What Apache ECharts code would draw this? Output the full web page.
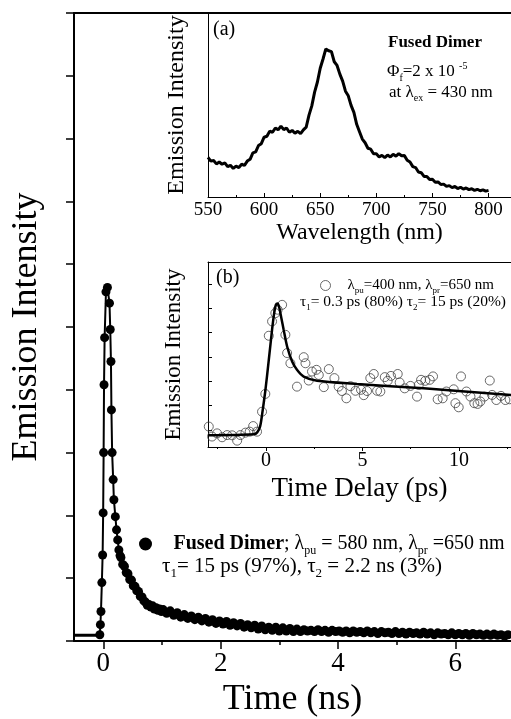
<!DOCTYPE html>
<html>
<head>
<meta charset="utf-8">
<script src="https://cdn.jsdelivr.net/npm/echarts@6.0.0/dist/echarts.min.js"></script>
<style>
  html, body { margin: 0; padding: 0; background: #fff; }
  #chart { width: 511px; height: 719px; }
</style>
</head>
<body>
<div id="chart"></div>
<script>
// main panel: emission decay (time in ns, intensity in arbitrary units)
const baseTime = [-0.5, -0.055]
const baseValue = [0.09, 0.09]

const decayTime = [
  -0.06, -0.05, -0.04, -0.025, -0.012, -0.003, 0.005, 0.012, 0.022, 0.045, 0.07,
  0.105, 0.118, 0.13, 0.138, 0.15, 0.168, 0.18, 0.205, 0.225, 0.245, 0.265, 0.285,
  0.30, 0.33, 0.36, 0.39, 0.42, 0.45, 0.48, 0.51, 0.54, 0.57, 0.60, 0.63, 0.66, 0.69,
  0.72, 0.75, 0.78, 0.81, 0.84, 0.87, 0.90, 0.93, 0.96, 0.99, 1.02,
  1.08, 1.14, 1.20, 1.26, 1.32, 1.38, 1.44, 1.50, 1.56, 1.62, 1.68, 1.74, 1.80, 1.86,
  1.92, 1.98, 2.04, 2.10, 2.16, 2.22, 2.28, 2.34, 2.40, 2.46, 2.52, 2.58, 2.64, 2.70,
  2.76, 2.82, 2.88, 2.94, 3.00, 3.06, 3.12, 3.18, 3.24, 3.30, 3.36, 3.42, 3.48, 3.54,
  3.60, 3.66, 3.72, 3.78, 3.84, 3.90, 3.96, 4.02, 4.08, 4.14, 4.20, 4.26, 4.32, 4.38,
  4.44, 4.50, 4.56, 4.62, 4.68, 4.74, 4.80, 4.86, 4.92, 4.98, 5.04, 5.10, 5.16, 5.22,
  5.28, 5.34, 5.40, 5.46, 5.52, 5.58, 5.64, 5.70, 5.76, 5.82, 5.88, 5.94, 6.00, 6.06,
  6.12, 6.18, 6.24, 6.30, 6.36, 6.42, 6.48, 6.54, 6.60, 6.66, 6.72, 6.78, 6.84, 6.90
]
const decayValue = [
  0.10, 0.26, 0.47, 0.93, 1.37, 2.04, 3.00, 4.08, 4.83, 5.56, 5.63,
  5.38, 4.96, 4.45, 3.68, 3.00, 2.57, 2.25, 1.98, 1.77, 1.61, 1.45, 1.36,
  1.33, 1.22, 1.19, 1.09, 1.07, 0.98, 0.97, 0.88, 0.87, 0.80, 0.79, 0.71, 0.70, 0.64,
  0.62, 0.57, 0.58, 0.54, 0.56, 0.51, 0.53, 0.49, 0.51, 0.47, 0.50,
  0.44, 0.48, 0.41, 0.45, 0.38, 0.42, 0.36, 0.40, 0.34, 0.38, 0.32, 0.36, 0.30, 0.34,
  0.28, 0.32, 0.27, 0.31, 0.25, 0.29, 0.24, 0.28, 0.22, 0.26, 0.21, 0.25, 0.19, 0.24,
  0.18, 0.22, 0.17, 0.22, 0.16, 0.21, 0.16, 0.20, 0.15, 0.19, 0.15, 0.18, 0.16, 0.17,
  0.15, 0.18, 0.15, 0.17, 0.14, 0.17, 0.15, 0.16, 0.14, 0.16, 0.13, 0.16, 0.14, 0.15,
  0.13, 0.16, 0.13, 0.15, 0.12, 0.15, 0.13, 0.14, 0.12, 0.15, 0.12, 0.14, 0.11, 0.14,
  0.12, 0.13, 0.11, 0.14, 0.11, 0.13, 0.10, 0.13, 0.11, 0.12, 0.10, 0.13, 0.10, 0.12,
  0.10, 0.12, 0.09, 0.12, 0.10, 0.11, 0.09, 0.11, 0.09, 0.11, 0.09, 0.10, 0.08, 0.10
]
const mainLabels = [0, 2, 4, 6]
const mainMinor = [1, 3, 5]

// inset (a): steady-state emission spectrum
const specWave = [
  550, 552.5, 555, 557.5, 560, 562.5, 565, 567.5, 570, 572.5, 575, 577.5, 580, 582.5,
  585, 587.5, 590, 592.5, 595, 597.5, 600, 602.5, 605, 607.5, 610, 612.5, 615, 617.5,
  620, 622.5, 625, 627.5, 630, 632.5, 635, 637.5, 640, 642.5, 645, 647.5, 650, 652.5,
  655, 657.5, 660, 662.5, 665, 667.5, 670, 672.5, 675, 677.5, 680, 682.5, 685, 687.5,
  690, 692.5, 695, 697.5, 700, 702.5, 705, 707.5, 710, 712.5, 715, 717.5, 720, 722.5,
  725, 727.5, 730, 732.5, 735, 737.5, 740, 742.5, 745, 747.5, 750, 752.5, 755, 757.5,
  760, 762.5, 765, 767.5, 770, 772.5, 775, 777.5, 780, 782.5, 785, 787.5, 790, 792.5,
  795, 797.5, 800
]
const specValue = [
  0.215, 0.195, 0.198, 0.18, 0.19, 0.178, 0.185, 0.165, 0.172, 0.155, 0.168, 0.16, 0.178, 0.172,
  0.195, 0.205, 0.24, 0.245, 0.28, 0.29, 0.325, 0.33, 0.358, 0.352, 0.375, 0.365, 0.385, 0.366,
  0.375, 0.352, 0.362, 0.346, 0.357, 0.344, 0.365, 0.38, 0.445, 0.495, 0.57, 0.625, 0.70, 0.75,
  0.805, 0.795, 0.79, 0.735, 0.715, 0.668, 0.63, 0.575, 0.55, 0.498, 0.46, 0.395, 0.355, 0.315,
  0.295, 0.265, 0.26, 0.235, 0.235, 0.218, 0.226, 0.214, 0.228, 0.218, 0.232, 0.222, 0.236, 0.224,
  0.225, 0.2, 0.19, 0.165, 0.16, 0.136, 0.132, 0.112, 0.112, 0.095, 0.096, 0.08, 0.082, 0.068,
  0.07, 0.058, 0.062, 0.051, 0.057, 0.046, 0.053, 0.043, 0.049, 0.04, 0.045, 0.036, 0.042, 0.034,
  0.039, 0.032, 0.036
]

// inset (b): pump-probe trace (ps) and its fit
const probeTime = [
  -2.96, -2.79, -2.53, -2.27, -2.01, -1.75, -1.49, -1.32, -1.06, -0.84, -0.66, -0.46,
  -0.20, -0.03, 0.15, 0.32, 0.49, 0.61, 0.84, 1.01, 1.10, 1.27, 1.61, 1.96, 2.05, 2.22,
  2.39, 2.62, 2.74, 3.00, 3.26, 3.55, 3.77, 3.94, 4.17, 4.38, 4.64, 4.93, 5.07, 5.24,
  5.41, 5.59, 5.76, 5.93, 6.16, 6.31, 6.48, 6.83, 6.93, 7.19, 7.49, 7.83, 7.92, 8.04,
  8.26, 8.49, 8.66, 8.90, 9.16, 9.35, 9.73, 9.82, 9.99, 10.11, 10.39, 10.60, 10.80,
  10.97, 11.11, 11.32, 11.60, 11.72, 11.94, 12.18, 12.41, 12.63
]
const probeValue = [
  0.14, -0.27, -0.14, -0.30, -0.21, -0.22, -0.44, -0.21, -0.11, -0.07, 0.16, -0.07,
  0.75, 1.48, 3.87, 4.46, 4.80, 4.94, 5.14, 3.91, 3.16, 2.74, 1.78, 2.99, 2.74, 2.03,
  2.40, 2.47, 2.26, 1.76, 2.50, 2.13, 1.78, 1.60, 1.30, 1.80, 1.61, 1.65, 1.43, 1.60,
  2.13, 2.30, 1.61, 1.58, 2.17, 2.02, 2.22, 2.30, 1.95, 1.71, 1.81, 1.37, 1.85, 2.06,
  2.02, 2.06, 2.20, 1.26, 1.30, 1.58, 1.67, 1.10, 0.93, 2.20, 1.58, 1.37, 1.10,
  1.07, 1.17, 1.37, 2.03, 1.44, 1.23, 1.40, 1.23, 1.26
]
const fitTime = [-3.0, -0.63, -0.45, -0.3, -0.2, -0.03, 0.15, 0.32, 0.42, 0.52, 0.61, 0.7, 0.8, 0.92, 1.1, 1.36, 1.61, 1.96, 2.65, 4.72, 8.17, 12.7]
const fitValue = [-0.22, -0.18, -0.1, 0.15, 0.62, 1.61, 2.88, 4.12, 4.75, 5.15, 5.2, 5.0, 4.6, 4.12, 3.43, 2.81, 2.47, 2.19, 2.02, 1.89, 1.71, 1.44]
const probeLabels = [0, 5, 10]
const probeMinor = [-2.5, 2.5, 7.5, 12.5]
const probeYTicks = [0, 1, 2, 3, 4, 5, 6]

const serif = "'Liberation Serif', 'Times New Roman', 'DejaVu Serif', serif"

function zip(xs, ys) {
  return xs.map((x, i) => [x, ys[i]])
}

function richSet(size) {
  return {
    n: { fontSize: size, fontFamily: serif, color: '#000', fill: '#000' },
    b: { fontSize: size, fontFamily: serif, fontWeight: 'bold', color: '#000', fill: '#000' },
    s: { fontSize: Math.round(size * 0.6), fontFamily: serif, color: '#000', fill: '#000', padding: [Math.round(size * 0.7), 0, 0, 0] },
    sup: { fontSize: Math.round(size * 0.6), fontFamily: serif, color: '#000', fill: '#000', padding: [0, 0, Math.round(size * 0.7), 0] }
  }
}

function label(text, left, top, size) {
  return {
    type: 'text',
    left: left,
    top: top,
    z: 100,
    style: { text: text, rich: richSet(size), fontSize: size, fontFamily: serif, fill: '#000' }
  }
}

const chart = echarts.init(document.getElementById('chart'), null, { renderer: 'canvas' })

const axisText = { color: '#000', fontFamily: serif }
const line1 = { onZero: false, lineStyle: { color: '#000', width: 1 } }
const line2 = { onZero: false, lineStyle: { color: '#000', width: 2 } }
const noLine = { show: false, onZero: false }

const option = {
  animation: false,
  backgroundColor: '#fff',
  grid: [
    { left: 74, right: 0, top: 13, bottom: 78, outerBoundsMode: 'none' },
    { left: 208, right: 0, top: 13, bottom: 522, outerBoundsMode: 'none' },
    { left: 208, right: 0, top: 262, bottom: 272, outerBoundsMode: 'none' }
  ],
  xAxis: [
    {
      gridIndex: 0, type: 'value', min: -0.5, max: 6.95, position: 'bottom',
      axisLine: line2,
      axisTick: { customValues: mainLabels, length: 8, lineStyle: { color: '#000', width: 1.5 } },
      axisLabel: Object.assign({ customValues: mainLabels, fontSize: 27, margin: 9 }, axisText),
      splitLine: { show: false },
      name: 'Time (ns)', nameLocation: 'middle', nameGap: 40,
      nameTextStyle: Object.assign({ fontSize: 36 }, axisText)
    },
    {
      gridIndex: 0, type: 'value', min: -0.5, max: 6.95, position: 'bottom',
      axisLine: noLine,
      axisTick: { customValues: mainMinor, length: 4, lineStyle: { color: '#000', width: 1.5 } },
      axisLabel: { show: false },
      splitLine: { show: false }
    },
    {
      gridIndex: 0, type: 'value', min: -0.5, max: 6.95, position: 'top',
      axisLine: line2,
      axisTick: { show: false }, axisLabel: { show: false }, splitLine: { show: false }
    },
    {
      gridIndex: 1, type: 'value', min: 550, max: 820, interval: 50, position: 'bottom',
      axisLine: line1,
      axisTick: { inside: true, length: 4, lineStyle: { color: '#000' } },
      minorTick: { show: true, splitNumber: 2, length: 2, lineStyle: { color: '#000' } },
      axisLabel: Object.assign({ fontSize: 19, margin: 4 }, axisText),
      splitLine: { show: false },
      name: 'Wavelength (nm)', nameLocation: 'middle', nameGap: 18,
      nameTextStyle: Object.assign({ fontSize: 24 }, axisText)
    },
    {
      gridIndex: 2, type: 'value', min: -3, max: 12.7, position: 'bottom',
      axisLine: line1,
      axisTick: { customValues: probeLabels, length: 4, lineStyle: { color: '#000' } },
      axisLabel: Object.assign({ customValues: probeLabels, fontSize: 20, margin: 4 }, axisText),
      splitLine: { show: false },
      name: 'Time Delay (ps)', nameLocation: 'middle', nameGap: 28,
      nameTextStyle: Object.assign({ fontSize: 27 }, axisText)
    },
    {
      gridIndex: 2, type: 'value', min: -3, max: 12.7, position: 'bottom',
      axisLine: noLine,
      axisTick: { customValues: probeMinor, length: 2, lineStyle: { color: '#000' } },
      axisLabel: { show: false }, splitLine: { show: false }
    },
    {
      gridIndex: 2, type: 'value', min: -3, max: 12.7, position: 'top',
      axisLine: line1,
      axisTick: { show: false }, axisLabel: { show: false }, splitLine: { show: false }
    }
  ],
  yAxis: [
    {
      gridIndex: 0, type: 'value', min: 0, max: 10, interval: 1, position: 'left',
      axisLine: line2,
      axisTick: { length: 8, lineStyle: { color: '#000', width: 1.5 } },
      axisLabel: { show: false },
      splitLine: { show: false },
      name: 'Emission Intensity', nameLocation: 'middle', nameGap: 29,
      nameTextStyle: Object.assign({ fontSize: 36 }, axisText)
    },
    {
      gridIndex: 1, type: 'value', min: 0, max: 1, position: 'left',
      axisLine: Object.assign({ show: true }, line1),
      axisTick: { show: false }, axisLabel: { show: false }, splitLine: { show: false },
      name: 'Emission Intensity', nameLocation: 'middle', nameGap: 19,
      nameTextStyle: Object.assign({ fontSize: 24 }, axisText)
    },
    {
      gridIndex: 2, type: 'value', min: -0.7, max: 6.9, position: 'left',
      axisLine: Object.assign({ show: true }, line1),
      axisTick: { inside: true, customValues: probeYTicks, length: 4, lineStyle: { color: '#000' } },
      axisLabel: { show: false }, splitLine: { show: false },
      name: 'Emission Intensity', nameLocation: 'middle', nameGap: 23,
      nameTextStyle: Object.assign({ fontSize: 23 }, axisText)
    }
  ],
  legend: [
    {
      data: [{ name: 'Fused Dimer', icon: 'circle' }],
      left: 139, top: 534, padding: 0, itemWidth: 46, itemHeight: 13,
      selectedMode: false,
      formatter: () => '{b|Fused Dimer}{n|; λ}{s|pu}{n| = 580 nm, λ}{s|pr}{n| =650 nm}',
      textStyle: { rich: richSet(20) }
    },
    {
      data: [{ name: 'Pump-probe', icon: 'circle',
        itemStyle: { color: 'rgba(0,0,0,0)', borderColor: '#444', borderWidth: 1 } }],
      left: 320, top: 278, padding: 0, itemWidth: 34, itemHeight: 10,
      selectedMode: false,
      formatter: () => '{n|λ}{s|pu}{n|=400 nm, λ}{s|pr}{n|=650 nm}',
      textStyle: { rich: richSet(15) }
    }
  ],
  graphic: [
    label('{n|(a)}', 213, 20, 20),
    label('{b|Fused Dimer}', 388, 34, 17),
    label('{n|Φ}{s|f}{n|=2 x 10 }{sup|-5}', 387, 61, 17),
    label('{n|at λ}{s|ex}{n| = 430 nm}', 389, 84, 17),
    label('{n|(b)}', 216, 268, 20),
    label('{n|τ}{s|1}{n|= 0.3 ps (80%) τ}{s|2}{n|= 15 ps (20%)}', 300, 294, 15.5),
    label('{n|τ}{s|1}{n|= 15 ps (97%), τ}{s|2}{n| = 2.2 ns (3%)}', 162, 556, 21)
  ],
  series: [
    {
      type: 'line', xAxisIndex: 0, yAxisIndex: 0,
      data: zip(baseTime, baseValue), showSymbol: false,
      lineStyle: { color: '#000', width: 3 }
    },
    {
      name: 'Fused Dimer', type: 'line', xAxisIndex: 0, yAxisIndex: 0,
      data: zip(decayTime, decayValue),
      symbol: 'circle', symbolSize: 9,
      itemStyle: { color: '#000' },
      lineStyle: { color: '#000', width: 2 }
    },
    {
      type: 'line', xAxisIndex: 3, yAxisIndex: 1,
      data: zip(specWave, specValue), showSymbol: false,
      lineStyle: { color: '#000', width: 3 }
    },
    {
      name: 'Pump-probe', type: 'scatter', xAxisIndex: 4, yAxisIndex: 2,
      data: zip(probeTime, probeValue), symbol: 'circle', symbolSize: 9,
      itemStyle: { color: 'rgba(0,0,0,0)', borderColor: '#444', borderWidth: 1 }
    },
    {
      type: 'line', xAxisIndex: 4, yAxisIndex: 2,
      data: zip(fitTime, fitValue), showSymbol: false, smooth: 0.3,
      lineStyle: { color: '#000', width: 2.5 }, z: 3
    }
  ]
}

chart.setOption(option)
</script>
</body>
</html>
